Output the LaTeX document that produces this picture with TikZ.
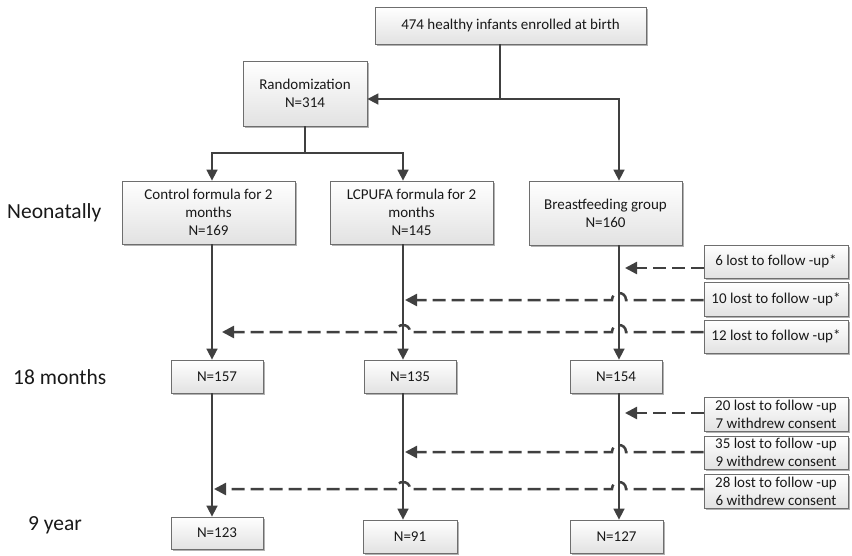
\documentclass[tikz,border=0pt]{standalone}
\usepackage{fontspec}
\setmainfont{Carlito}
\usetikzlibrary{arrows.meta,shadows,calc}
\definecolor{boxline}{RGB}{110,110,110}
\definecolor{boxfill}{RGB}{226,226,226}
\definecolor{linec}{RGB}{64,64,64}
\definecolor{txt}{RGB}{25,25,25}
\begin{document}
\begin{tikzpicture}[x=1pt,y=-1pt,
  box/.style={draw=boxline, line width=0.8pt, top color=white, bottom color=boxfill,
    drop shadow={shadow xshift=2pt,shadow yshift=-2pt,fill=black,opacity=0.3},
    inner sep=0pt, align=center, text=txt, font=\fontsize{15}{18}\selectfont},
  conn/.style={draw=linec, line width=1.6pt},
  arr/.style={conn, -{Triangle[width=11pt,length=11pt]}},
  darr/.style={draw=linec, line width=2.5pt, dash pattern=on 13pt off 6pt,
    -{Triangle[width=12pt,length=12pt]}},
  lab/.style={anchor=west, text=txt, inner sep=0pt, font=\fontsize{21.5}{24}\selectfont}]
\useasboundingbox (0,0) rectangle (852,555);

% column x positions of the vertical connectors
\coordinate (xc) at (212,0);
\coordinate (xl) at (403,0);
\coordinate (xb) at (619,0);

% main boxes
\node[box, minimum width=271pt, minimum height=37pt] (top) at (510.5,25.5) {474 healthy infants enrolled at birth};
\node[box, minimum width=124pt, minimum height=65pt] (rand) at (305,93.5) {Randomization\\N=314};
\node[box, minimum width=173pt, minimum height=63pt] (ctrl) at (208.5,212.5) {Control formula for 2\\months\\N=169};
\node[box, minimum width=163pt, minimum height=63pt] (lcp) at (411.5,212.5) {LCPUFA formula for 2\\months\\N=145};
\node[box, minimum width=153pt, minimum height=64pt] (bf) at (605.5,213) {Breastfeeding group\\N=160};

\node[box, minimum width=92pt, minimum height=33pt] (n157) at (217,376.5) {N=157};
\node[box, minimum width=92pt, minimum height=33pt] (n135) at (410,376.5) {N=135};
\node[box, minimum width=92pt, minimum height=33pt] (n154) at (616,376.5) {N=154};

\node[box, minimum width=92pt, minimum height=32pt] (n123) at (217,533) {N=123};
\node[box, minimum width=94pt, minimum height=33pt] (n91) at (410,536.5) {N=91};
\node[box, minimum width=93pt, minimum height=33pt] (n127) at (616.5,536.5) {N=127};

% loss boxes
\node[box, minimum width=144pt, minimum height=33pt] (l6) at (776,261.5) {6 lost to follow -up*};
\node[box, minimum width=144pt, minimum height=34pt] (l10) at (776,299) {10 lost to follow -up*};
\node[box, minimum width=144pt, minimum height=33pt] (l12) at (776,336.5) {12 lost to follow -up*};
\node[box, minimum width=144pt, minimum height=34pt] (l20) at (776,414) {20 lost to follow -up\\7 withdrew consent};
\node[box, minimum width=144pt, minimum height=33pt] (l35) at (776,452.5) {35 lost to follow -up\\9 withdrew consent};
\node[box, minimum width=144pt, minimum height=34pt] (l28) at (776,491) {28 lost to follow -up\\6 withdrew consent};

% time labels
\node[lab] (tneo) at (7,213) {Neonatally};
\node[lab] (t18) at (13,377) {18 months};
\node[lab] (t9) at (28,525) {9 year};

% top splits
\coordinate (j1) at (500,99);
\draw[conn] (top.south -| j1) -- (j1);
\draw[arr] (j1) -- (rand.east |- j1);
\draw[arr] (j1) -| (bf.north -| xb);

\coordinate (j2) at (305,153);
\draw[conn] (rand.south) -- (j2);
\draw[arr] (j2) -| (ctrl.north -| xc);
\draw[arr] (j2) -| (lcp.north -| xl);

% vertical flows
\draw[arr] (ctrl.south -| xc) -- (n157.north -| xc);
\draw[arr] (lcp.south -| xl) -- (n135.north -| xl);
\draw[arr] (bf.south -| xb) -- (n154.north -| xb);
\draw[arr] (n157.south -| xc) -- (n123.north -| xc);
\draw[arr] (n135.south -| xl) -- (n91.north -| xl);
\draw[arr] (n154.south -| xb) -- (n127.north -| xb);

% loss arrows (first period)
\coordinate (t6) at (625,268);
\coordinate (t10) at (405,300);
\coordinate (t12) at (222,332);
\draw[darr] (l6.west |- t6) -- (t6);
\draw[darr] (l10.west |- t10) -- (626,300) .. controls (626,290.7) and (612,290.7) .. (612,300) -- (t10);
\draw[darr] (l12.west |- t12) -- (626,332) .. controls (626,322.7) and (612,322.7) .. (612,332)
  -- (410,332) .. controls (410,322.7) and (396,322.7) .. (396,332) -- (t12);

% loss arrows (second period)
\coordinate (t20) at (625,413);
\coordinate (t35) at (405,452);
\coordinate (t28) at (214,489);
\draw[darr] (l20.west |- t20) -- (t20);
\draw[darr] (l35.west |- t35) -- (626,452) .. controls (626,442.7) and (612,442.7) .. (612,452) -- (t35);
\draw[darr] (l28.west |- t28) -- (626,489) .. controls (626,479.7) and (612,479.7) .. (612,489)
  -- (410,489) .. controls (410,479.7) and (396,479.7) .. (396,489) -- (t28);
\end{tikzpicture}
\end{document}
